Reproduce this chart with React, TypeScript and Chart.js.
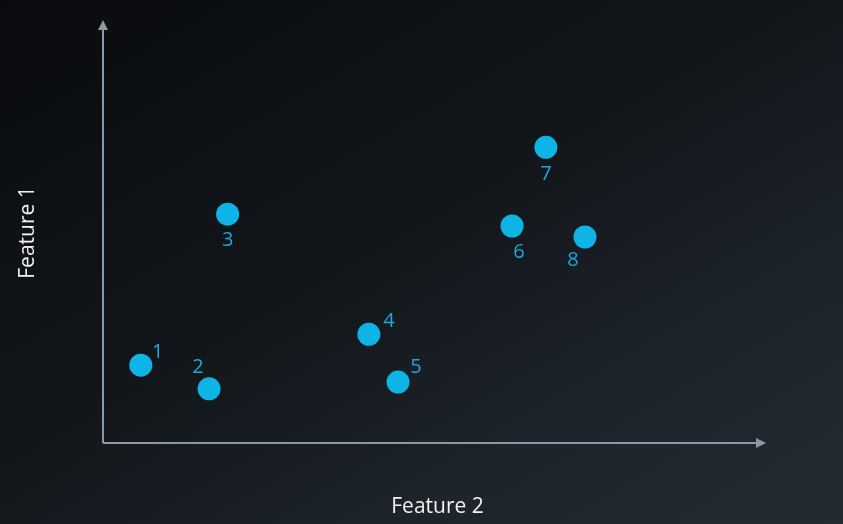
import React, { useEffect, useRef } from "react";
import { Chart, registerables } from "chart.js";

Chart.register(...registerables);

const pointLabels = ["1", "2", "3", "4", "5", "6", "7", "8"];
const feature2Values = [0.57, 1.6, 1.88, 4.01, 4.45, 6.17, 6.68, 7.27];
const feature1Values = [1.84, 1.28, 5.41, 2.57, 1.44, 5.13, 6.99, 4.87];
const xAxisTitle = "Feature 2";
const yAxisTitle = "Feature 1";

// label placement relative to each point (style only)
const labelOffsets: [number, number][] = [
  [17, -13], [-11, -22], [0, 26], [20, -13], [18, -15], [7, 26], [0, 27], [-12, 23],
];

const POINT_COLOR = "#0fb4e6";
const LABEL_COLOR = "#1ba9da";
const AXIS_COLOR = "#8c98a5";

const overlayPlugin = {
  id: "overlay",
  afterDatasetsDraw(chart: any) {
    const ctx = chart.ctx;
    const { left, right, top, bottom } = chart.chartArea;
    const meta = chart.getDatasetMeta(0);
    ctx.save();
    // axes
    ctx.strokeStyle = AXIS_COLOR;
    ctx.fillStyle = AXIS_COLOR;
    ctx.lineWidth = 2;
    ctx.beginPath();
    ctx.moveTo(left, bottom);
    ctx.lineTo(left, top + 6);
    ctx.moveTo(left, bottom);
    ctx.lineTo(right - 6, bottom);
    ctx.stroke();
    ctx.beginPath();
    ctx.moveTo(left, top);
    ctx.lineTo(left - 5, top + 10);
    ctx.lineTo(left + 5, top + 10);
    ctx.closePath();
    ctx.fill();
    ctx.beginPath();
    ctx.moveTo(right, bottom);
    ctx.lineTo(right - 10, bottom - 5);
    ctx.lineTo(right - 10, bottom + 5);
    ctx.closePath();
    ctx.fill();

    // point labels
    ctx.fillStyle = LABEL_COLOR;
    ctx.font = "20px 'Open Sans', sans-serif";
    ctx.textAlign = "center";
    ctx.textBaseline = "middle";
    meta.data.forEach((el: any, i: number) => {
      const [dx, dy] = labelOffsets[i];
      ctx.fillText(pointLabels[i], el.x + dx, el.y + dy);
    });

    // axis titles
    ctx.fillStyle = "#f2f2f2";
    ctx.font = "21px 'Open Sans', sans-serif";
    ctx.fillText(xAxisTitle, (left + right) / 2 + 3, 507);
    ctx.translate(28, (top + bottom) / 2 + 1);
    ctx.rotate(-Math.PI / 2);
    ctx.fillText(yAxisTitle, 0, 0);
    ctx.restore();
  },
};

export default function App() {
  const canvasRef = useRef<HTMLCanvasElement | null>(null);

  useEffect(() => {
    document.body.style.margin = "0";
    const canvas = canvasRef.current;
    if (!canvas) return;
    const chart = new Chart(canvas, {
      type: "scatter",
      data: {
        labels: pointLabels,
        datasets: [
          {
            data: feature2Values.map((x, i) => ({ x, y: feature1Values[i] })),
            backgroundColor: POINT_COLOR,
            borderColor: POINT_COLOR,
            borderWidth: 0,
            pointRadius: 11.5,
            pointHoverRadius: 11.5,
          },
        ],
      },
      options: {
        animation: false,
        responsive: false,
        maintainAspectRatio: false,
        layout: { padding: { left: 103, right: 77, top: 20, bottom: 81 } },
        plugins: { legend: { display: false }, tooltip: { enabled: false } },
        scales: {
          x: { type: "linear", min: 0, max: 10, display: false },
          y: { type: "linear", min: 0, max: 10, display: false },
        },
      },
      plugins: [overlayPlugin],
    });
    return () => chart.destroy();
  }, []);

  return (
    <div
      style={{
        position: "absolute",
        left: 0,
        top: 0,
        width: 843,
        height: 524,
        background: "linear-gradient(150deg, #090b0e 0%, #12161b 45%, #1d242b 75%, #242c33 100%)",
      }}
    >
      <canvas ref={canvasRef} width={843} height={524} style={{ width: 843, height: 524, display: "block" }} />
    </div>
  );
}
